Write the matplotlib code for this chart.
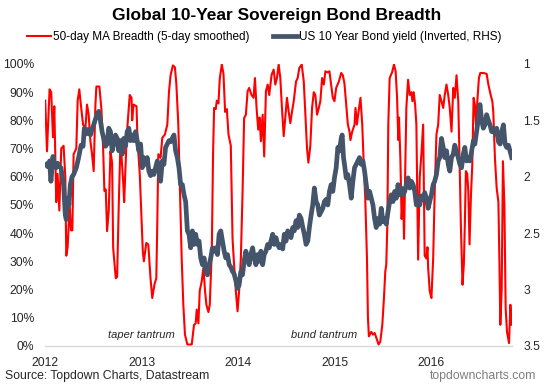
import matplotlib
matplotlib.use("Agg")
import matplotlib.pyplot as plt

plt.rcParams['font.family'] = ['Liberation Sans', 'DejaVu Sans']

# 50-day MA breadth (% of markets), x in decimal years
breadth_t = [
    2012.000, 2012.018, 2012.045, 2012.062, 2012.080, 2012.094, 2012.114, 2012.128, 2012.146, 2012.166,
    2012.190, 2012.208, 2012.218, 2012.232, 2012.253, 2012.267, 2012.281, 2012.294, 2012.322, 2012.336,
    2012.353, 2012.371, 2012.392, 2012.416, 2012.433, 2012.450, 2012.468, 2012.485, 2012.502, 2012.520,
    2012.530, 2012.561, 2012.582, 2012.600, 2012.613, 2012.627, 2012.641, 2012.658, 2012.676, 2012.693,
    2012.704, 2012.731, 2012.745, 2012.762, 2012.780, 2012.808, 2012.818, 2012.842, 2012.856, 2012.876,
    2012.894, 2012.901, 2012.915, 2012.946, 2012.956, 2012.980, 2013.011, 2013.022, 2013.047, 2013.068,
    2013.091, 2013.109, 2013.133, 2013.151, 2013.161, 2013.172, 2013.195, 2013.213, 2013.240, 2013.265,
    2013.282, 2013.299, 2013.323, 2013.344, 2013.359, 2013.379, 2013.396, 2013.414, 2013.431, 2013.448,
    2013.473, 2013.518, 2013.542, 2013.559, 2013.570, 2013.587, 2013.601, 2013.622, 2013.639, 2013.656,
    2013.670, 2013.691, 2013.705, 2013.726, 2013.739, 2013.750, 2013.767, 2013.778, 2013.795, 2013.809,
    2013.830, 2013.847, 2013.864, 2013.882, 2013.899, 2013.923, 2013.941, 2013.957, 2013.975, 2013.993,
    2014.009, 2014.027, 2014.045, 2014.061, 2014.079, 2014.097, 2014.113, 2014.138, 2014.159, 2014.173,
    2014.190, 2014.207, 2014.221, 2014.235, 2014.253, 2014.269, 2014.287, 2014.305, 2014.321, 2014.346,
    2014.367, 2014.384, 2014.401, 2014.419, 2014.436, 2014.453, 2014.471, 2014.488, 2014.505, 2014.523,
    2014.540, 2014.557, 2014.575, 2014.599, 2014.616, 2014.633, 2014.658, 2014.679, 2014.692, 2014.713,
    2014.727, 2014.747, 2014.765, 2014.783, 2014.799, 2014.817, 2014.835, 2014.851, 2014.869, 2014.887,
    2014.903, 2014.928, 2014.945, 2014.963, 2014.980, 2014.997, 2015.015, 2015.043, 2015.067, 2015.084,
    2015.101, 2015.119, 2015.136, 2015.153, 2015.163, 2015.181, 2015.205, 2015.215, 2015.230, 2015.246,
    2015.267, 2015.285, 2015.298, 2015.316, 2015.334, 2015.344, 2015.354, 2015.378, 2015.396, 2015.413,
    2015.430, 2015.454, 2015.472, 2015.493, 2015.510, 2015.524, 2015.534, 2015.545, 2015.555, 2015.569,
    2015.594, 2015.614, 2015.631, 2015.646, 2015.659, 2015.666, 2015.680, 2015.693, 2015.708, 2015.718,
    2015.729, 2015.742, 2015.760, 2015.777, 2015.794, 2015.805, 2015.818, 2015.833, 2015.846, 2015.864,
    2015.881, 2015.898, 2015.916, 2015.932, 2015.950, 2015.961, 2015.968, 2015.984, 2016.002, 2016.020,
    2016.036, 2016.054, 2016.072, 2016.088, 2016.106, 2016.124, 2016.140, 2016.158, 2016.176, 2016.192,
    2016.210, 2016.228, 2016.244, 2016.262, 2016.280, 2016.293, 2016.307, 2016.324, 2016.338, 2016.348,
    2016.359, 2016.373, 2016.384, 2016.397, 2016.411, 2016.425, 2016.439, 2016.452, 2016.463, 2016.480,
    2016.494, 2016.508, 2016.540, 2016.574, 2016.592, 2016.616, 2016.633, 2016.643, 2016.660, 2016.678,
    2016.696, 2016.706, 2016.716, 2016.730, 2016.743, 2016.758, 2016.771, 2016.785, 2016.806, 2016.820,
    2016.834,
]
breadth_pct = [
    87, 69, 91, 90, 74, 85, 51, 61, 48, 70,
    71, 60, 32, 35, 50, 41, 41, 68, 70, 87,
    91, 85, 78.5, 77, 85.6, 82, 72.7, 68, 62, 85.6,
    92, 92, 84, 70, 55, 55.5, 40.7, 48, 69, 65,
    34.7, 24, 24.5, 50, 72.7, 58, 51, 72.7, 80, 89,
    88, 80, 85.6, 85, 73, 60.7, 33.6, 30, 36.5, 36,
    24, 17, 22, 24, 43, 68, 66.7, 73.8, 75, 78.5,
    90, 96, 99.5, 98.8, 92.7, 78.5, 55, 31, 14.6, 4,
    0.5, 0.5, 7.5, 8, 12.9, 8, 19.5, 23, 27.7, 19.5,
    14.6, 12, 14.6, 33.7, 68, 84.4, 84, 87, 86, 95,
    99.8, 96.5, 83, 84, 75, 71, 38, 28.8, 19.5, 12.3,
    19.5, 31, 54.8, 80.8, 82, 90.3, 91.5, 89, 88, 95,
    84.4, 76.7, 81, 72.6, 82, 67.2, 90.3, 92.7, 89, 96.2,
    98, 92.7, 95, 99.8, 95, 84.4, 74.4, 81, 88, 83,
    79, 83, 86.8, 93.8, 95, 98.6, 99.8, 93.8, 84.4, 70,
    65, 71, 84.4, 90, 89, 82, 84.4, 86.8, 95, 92.7,
    97.4, 97, 97.4, 92.7, 88, 86.8, 91.5, 93.8, 96.8, 96,
    93, 85.6, 78.5, 76, 73, 76, 78.5, 84.4, 78.5, 83,
    88, 78.5, 66.7, 52.5, 31, 10, 3.4, 5, 4, 4.6,
    3, 0.5, 1.5, 7.5, 17, 26.5, 28.8, 43, 78.5, 95,
    97, 99.8, 97.4, 88, 73, 81, 66.7, 45, 55, 38,
    60, 84.4, 94.4, 89, 90, 86.8, 90, 85.6, 78.5, 30.6,
    60, 68, 78.5, 32, 31, 35, 27.7, 19.5, 17, 31,
    54.8, 75, 78.5, 89, 86.8, 84.4, 89, 92.7, 89, 84.4,
    76, 91.5, 88, 96, 86.8, 66.7, 43, 21.7, 29, 43,
    62, 61, 55, 36, 53, 64, 88, 85.6, 78.5, 88,
    95, 96.8, 96.8, 96.5, 92.7, 89, 86.8, 83, 66.7, 56,
    51, 31, 7.5, 20, 65.5, 50, 13.5, 5, 1, 14.6,
    7.5,
]

# US 10 year bond yield (%), plotted on an inverted right axis
yield_t = [
    2012.010, 2012.024, 2012.045, 2012.059, 2012.080, 2012.094, 2012.114, 2012.128, 2012.149, 2012.163,
    2012.177, 2012.190, 2012.208, 2012.218, 2012.232, 2012.246, 2012.260, 2012.278, 2012.294, 2012.322,
    2012.346, 2012.371, 2012.392, 2012.405, 2012.426, 2012.444, 2012.468, 2012.485, 2012.502, 2012.520,
    2012.537, 2012.554, 2012.572, 2012.589, 2012.606, 2012.624, 2012.641, 2012.658, 2012.676, 2012.693,
    2012.710, 2012.728, 2012.745, 2012.762, 2012.780, 2012.797, 2012.814, 2012.832, 2012.849, 2012.866,
    2012.884, 2012.901, 2012.918, 2012.936, 2012.953, 2012.970, 2012.988, 2013.005, 2013.022, 2013.040,
    2013.057, 2013.074, 2013.091, 2013.109, 2013.126, 2013.143, 2013.161, 2013.178, 2013.195, 2013.213,
    2013.230, 2013.247, 2013.265, 2013.282, 2013.299, 2013.317, 2013.334, 2013.351, 2013.369, 2013.386,
    2013.403, 2013.421, 2013.438, 2013.455, 2013.473, 2013.490, 2013.507, 2013.525, 2013.542, 2013.559,
    2013.577, 2013.594, 2013.611, 2013.629, 2013.646, 2013.663, 2013.681, 2013.698, 2013.715, 2013.733,
    2013.750, 2013.767, 2013.785, 2013.802, 2013.819, 2013.837, 2013.854, 2013.871, 2013.889, 2013.906,
    2013.923, 2013.941, 2013.957, 2013.975, 2013.993, 2014.009, 2014.027, 2014.044, 2014.061, 2014.079,
    2014.096, 2014.113, 2014.131, 2014.149, 2014.165, 2014.183, 2014.200, 2014.217, 2014.235, 2014.253,
    2014.269, 2014.287, 2014.305, 2014.321, 2014.339, 2014.357, 2014.373, 2014.391, 2014.409, 2014.425,
    2014.443, 2014.461, 2014.477, 2014.495, 2014.513, 2014.529, 2014.547, 2014.565, 2014.581, 2014.599,
    2014.616, 2014.633, 2014.651, 2014.669, 2014.685, 2014.703, 2014.721, 2014.737, 2014.755, 2014.772,
    2014.789, 2014.807, 2014.824, 2014.841, 2014.859, 2014.876, 2014.893, 2014.911, 2014.928, 2014.945,
    2014.963, 2014.980, 2014.997, 2015.015, 2015.032, 2015.049, 2015.067, 2015.077, 2015.091, 2015.101,
    2015.119, 2015.136, 2015.153, 2015.171, 2015.188, 2015.205, 2015.223, 2015.240, 2015.257, 2015.274,
    2015.292, 2015.309, 2015.326, 2015.344, 2015.361, 2015.378, 2015.396, 2015.413, 2015.430, 2015.448,
    2015.465, 2015.482, 2015.500, 2015.517, 2015.534, 2015.552, 2015.569, 2015.586, 2015.604, 2015.621,
    2015.638, 2015.656, 2015.673, 2015.690, 2015.708, 2015.725, 2015.742, 2015.760, 2015.777, 2015.794,
    2015.812, 2015.829, 2015.846, 2015.864, 2015.881, 2015.898, 2015.916, 2015.932, 2015.950, 2015.968,
    2015.984, 2016.002, 2016.020, 2016.036, 2016.054, 2016.072, 2016.088, 2016.106, 2016.124, 2016.140,
    2016.158, 2016.176, 2016.192, 2016.210, 2016.228, 2016.244, 2016.262, 2016.280, 2016.297, 2016.314,
    2016.332, 2016.348, 2016.366, 2016.384, 2016.401, 2016.419, 2016.437, 2016.452, 2016.470, 2016.488,
    2016.505, 2016.522, 2016.540, 2016.557, 2016.574, 2016.592, 2016.609, 2016.626, 2016.643, 2016.661,
    2016.678, 2016.696, 2016.713, 2016.730, 2016.748, 2016.765, 2016.782, 2016.799, 2016.816, 2016.834,
]
yield_val = [
    1.89, 1.91, 1.86, 2.04, 1.82, 1.89, 1.92, 1.88, 1.91, 1.92,
    2.00, 2.07, 2.34, 2.38, 2.19, 2.25, 2.07, 2.00, 1.98, 1.92,
    1.83, 1.72, 1.73, 1.57, 1.62, 1.58, 1.63, 1.58, 1.54, 1.49,
    1.45, 1.42, 1.50, 1.60, 1.66, 1.73, 1.71, 1.57, 1.60, 1.77,
    1.71, 1.63, 1.66, 1.77, 1.68, 1.80, 1.66, 1.73, 1.60, 1.57,
    1.68, 1.63, 1.68, 1.60, 1.68, 1.77, 1.71, 1.92, 1.83, 1.89,
    1.83, 1.95, 1.99, 1.95, 1.98, 1.92, 1.86, 1.95, 2.04, 1.86,
    1.89, 1.74, 1.71, 1.68, 1.69, 1.66, 1.63, 1.77, 1.83, 1.92,
    2.07, 2.07, 2.16, 2.22, 2.48, 2.51, 2.63, 2.48, 2.60, 2.51,
    2.60, 2.57, 2.72, 2.78, 2.72, 2.84, 2.87, 2.78, 2.72, 2.63,
    2.66, 2.63, 2.69, 2.51, 2.48, 2.57, 2.66, 2.72, 2.69, 2.78,
    2.80, 2.84, 2.86, 2.92, 2.99, 2.96, 2.84, 2.87, 2.75, 2.66,
    2.72, 2.78, 2.69, 2.63, 2.72, 2.78, 2.69, 2.75, 2.66, 2.78,
    2.69, 2.66, 2.60, 2.63, 2.57, 2.51, 2.60, 2.54, 2.60, 2.63,
    2.60, 2.64, 2.51, 2.57, 2.48, 2.51, 2.54, 2.45, 2.48, 2.39,
    2.45, 2.34, 2.37, 2.45, 2.51, 2.60, 2.57, 2.45, 2.34, 2.25,
    2.10, 2.22, 2.25, 2.34, 2.31, 2.28, 2.22, 2.20, 2.25, 2.13,
    2.07, 2.13, 2.01, 1.92, 1.74, 1.77, 1.66, 1.63, 1.83, 1.89,
    2.01, 1.98, 2.07, 2.19, 2.04, 1.92, 1.89, 1.86, 1.83, 1.89,
    1.86, 1.95, 2.07, 2.19, 2.13, 2.19, 2.25, 2.37, 2.45, 2.37,
    2.42, 2.28, 2.40, 2.37, 2.42, 2.31, 2.22, 2.16, 2.22, 2.13,
    2.19, 2.07, 2.16, 2.10, 2.16, 2.13, 2.07, 2.01, 2.10, 2.04,
    2.07, 2.13, 2.25, 2.19, 2.25, 2.17, 2.20, 2.14, 2.19, 2.28,
    2.22, 2.16, 2.07, 2.04, 1.98, 1.86, 1.83, 1.66, 1.74, 1.83,
    1.77, 1.89, 1.95, 1.83, 1.80, 1.72, 1.77, 1.83, 1.89, 1.92,
    1.80, 1.74, 1.86, 1.83, 1.86, 1.77, 1.68, 1.71, 1.60, 1.49,
    1.36, 1.50, 1.57, 1.54, 1.45, 1.50, 1.54, 1.60, 1.57, 1.62,
    1.57, 1.69, 1.71, 1.60, 1.54, 1.71, 1.74, 1.72, 1.77, 1.83,
]

year_ticks = [2012, 2013, 2014, 2015, 2016]
pct_ticks = [0, 10, 20, 30, 40, 50, 60, 70, 80, 90, 100]
yield_ticks = [1, 1.5, 2, 2.5, 3, 3.5]
annotations = [("taper tantrum", 2013.0), ("bund tantrum", 2014.89)]

RED = '#FF0000'
SLATE = '#44546A'
TXT = '#262626'

fig = plt.figure(figsize=(5.45, 3.9), dpi=100)
ax = fig.add_axes([0.083, 0.113, 0.857, 0.723])
ax2 = ax.twinx()

l1, = ax.plot(breadth_t, breadth_pct, color=RED, lw=1.5, zorder=2)
l2, = ax2.plot(yield_t, yield_val, color=SLATE, lw=3.4, zorder=3)

ax.set_xlim(2012.0, 2016.84)
ax.set_ylim(0, 100)
ax2.set_ylim(3.5, 1)

ax.set_xticks(year_ticks)
ax.set_xticklabels([str(y) for y in year_ticks])
ax.set_yticks(pct_ticks)
ax.set_yticklabels([f"{v}%" for v in pct_ticks])
ax2.set_yticks(yield_ticks)
ax2.set_yticklabels([f"{v:g}" for v in yield_ticks])

for a in (ax, ax2):
    for s in a.spines.values():
        s.set_visible(False)
    a.tick_params(length=0, labelsize=8.7, colors=TXT)
ax.spines['bottom'].set_visible(True)
ax.spines['bottom'].set_color('#D9D9D9')
ax.spines['bottom'].set_linewidth(1.0)
ax.tick_params(axis='y', pad=8)
ax.tick_params(axis='x', pad=8)
ax2.tick_params(axis='y', pad=8)

for label, xpos in annotations:
    ax.text(xpos, 4, label, ha='center', va='center', fontsize=8, style='italic', color=TXT)

fig.text(0.507, 0.96, 'Global 10-Year Sovereign Bond Breadth', ha='center', va='center',
         fontsize=12.5, fontweight='bold', color='black')
fig.legend([l1, l2], ['50-day MA Breadth (5-day smoothed)', 'US 10 Year Bond yield (Inverted, RHS)'],
           loc='center', bbox_to_anchor=(0.485, 0.905), ncol=2, frameon=False, fontsize=8.5,
           handlelength=2.0, handletextpad=0.2, columnspacing=2.0, borderaxespad=0)
fig.text(0.009, 0.035, 'Source: Topdown Charts, Datastream', ha='left', va='center', fontsize=8.8, color=TXT)
fig.text(0.985, 0.035, 'topdowncharts.com', ha='right', va='center', fontsize=8.8, color='#7F7F7F')

fig.savefig('out.png', dpi=100)
